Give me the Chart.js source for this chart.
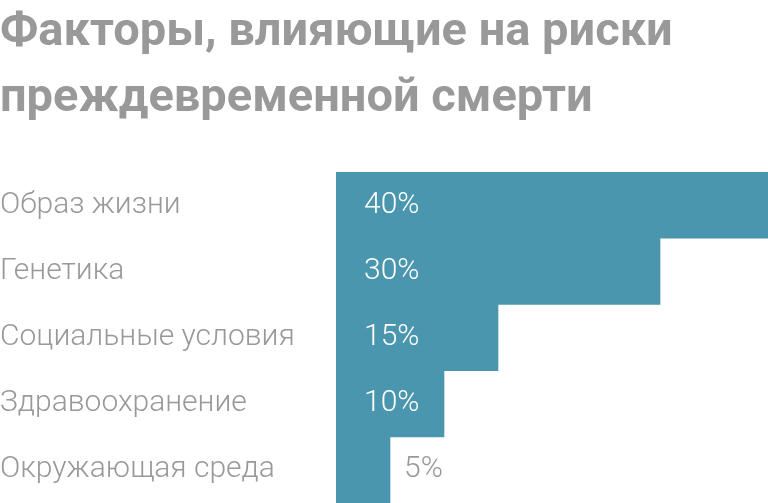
<!DOCTYPE html>
<html>
<head>
<meta charset="utf-8">
<script src="https://cdn.jsdelivr.net/npm/chart.js@4"></script>
<style>
  html, body { margin: 0; padding: 0; background: #fff; overflow: hidden; }
  canvas { display: block; }
</style>
</head>
<body>
<canvas id="myChart" width="768" height="503"></canvas>
<script>
const categories = ['Образ жизни', 'Генетика', 'Социальные условия', 'Здравоохранение', 'Окружающая среда'];
const values = [40, 30, 15, 10, 5];
const titleLines = ['Факторы, влияющие на риски', 'преждевременной смерти'];

const barColor = '#4a96ae';
const grayText = '#999999';

// value labels: white inside the bar, gray after it when the bar is too short
const valueLabels = {
    id: 'valueLabels',
    afterDatasetsDraw(chart) {
        const c = chart.ctx;
        const meta = chart.getDatasetMeta(0);
        c.save();
        c.font = '300 30px Roboto';
        c.textBaseline = 'middle';
        c.textAlign = 'left';
        meta.data.forEach((bar, i) => {
            const v = values[i];
            if (v >= 10) {
                c.fillStyle = '#ffffff';
                c.fillText(v + '%', bar.base + 28, bar.y);
            } else {
                c.fillStyle = grayText;
                c.fillText(v + '%', bar.x + 14, bar.y);
            }
        });
        c.restore();
    }
};

const ctx = document.getElementById('myChart');

const myChart = new Chart(ctx, {
    type: 'bar',
    data: {
        labels: categories,
        datasets: [{
            data: values,
            backgroundColor: barColor,
            borderWidth: 0,
            barPercentage: 1,
            categoryPercentage: 1
        }]
    },
    options: {
        indexAxis: 'y',
        responsive: false,
        animation: false,
        layout: { padding: 0, autoPadding: false },
        scales: {
            x: {
                display: false,
                min: 0,
                max: 40
            },
            y: {
                grid: { display: false },
                border: { display: false },
                afterFit(scale) { scale.width = 336; },
                ticks: {
                    crossAlign: 'far',
                    padding: 0,
                    color: grayText,
                    // lineHeight 0 so the axis adds no padding under the last bar
                    font: { family: 'Roboto', size: 30, weight: '300', lineHeight: 0 }
                }
            }
        },
        plugins: {
            legend: { display: false },
            tooltip: { enabled: false },
            title: {
                display: true,
                text: titleLines,
                align: 'start',
                color: grayText,
                font: { family: 'Roboto', size: 47, weight: 'bold', lineHeight: 1.404 },
                padding: { top: 0, bottom: 40 }
            }
        }
    },
    plugins: [valueLabels]
});
</script>
</body>
</html>
